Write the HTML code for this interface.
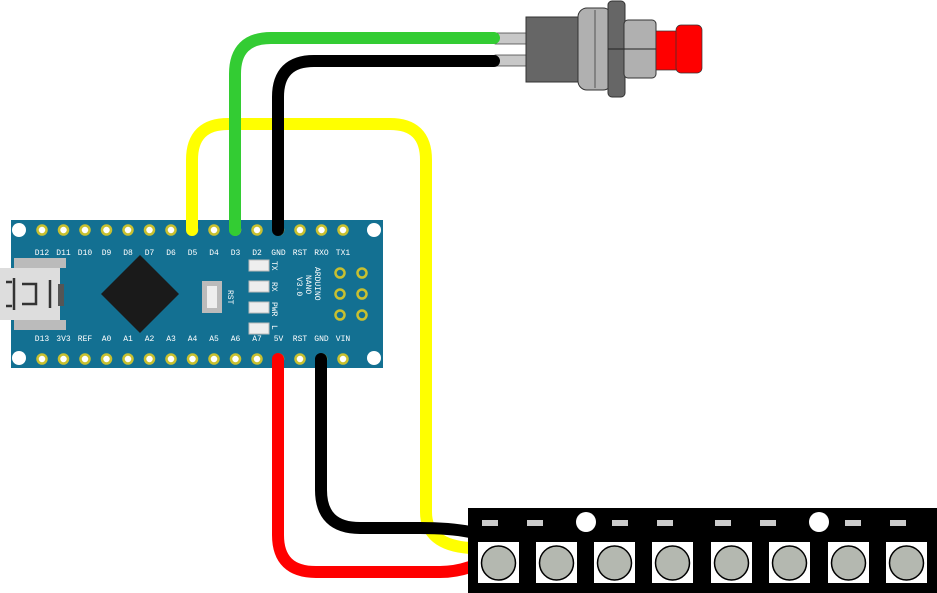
<!DOCTYPE html>
<html><head><style>
html,body{margin:0;padding:0;background:#fff;width:937px;height:593px;overflow:hidden}
</style></head><body>
<svg width="937" height="593" viewBox="0 0 937 593" xmlns="http://www.w3.org/2000/svg" font-family="Liberation Mono, monospace">
<!-- button -->
<rect x="495" y="33" width="32" height="11" fill="#c8c8c8" stroke="#333" stroke-width="0.7"/>
<rect x="495" y="55" width="32" height="11" fill="#c8c8c8" stroke="#333" stroke-width="0.7"/>
<rect x="526" y="17" width="53" height="65" fill="#666" stroke="#333"/>
<rect x="578" y="8" width="34" height="82" rx="9" fill="#b0b0b0" stroke="#333"/>
<line x1="595" y1="10" x2="595" y2="88" stroke="#555"/>
<rect x="608" y="1" width="17" height="96" rx="4" fill="#666" stroke="#333"/>
<line x1="608" y1="49" x2="625" y2="49" stroke="#222"/>
<rect x="624" y="20" width="32" height="58" rx="4" fill="#b0b0b0" stroke="#333"/>
<line x1="624" y1="49" x2="656" y2="49" stroke="#222"/>
<rect x="656" y="31" width="22" height="39" fill="#f00" stroke="#333" stroke-width="0.7"/>
<rect x="676" y="25" width="26" height="48" rx="5" fill="#f00" stroke="#333" stroke-width="0.7"/>
<!-- board -->
<rect x="11" y="220" width="372" height="148" fill="#137092"/>
<rect x="0" y="268" width="60" height="52" fill="#ddd"/>
<rect x="14" y="258" width="52" height="10" fill="#bbb"/><rect x="14" y="320" width="52" height="10" fill="#bbb"/>
<g stroke="#333" stroke-width="2.5" fill="none"><path d="M6 282 H12 M6 306 H12 M14 278 V310"/><path d="M22 284 H36 V304 H22"/><line x1="50" y1="280" x2="50" y2="308"/></g>
<rect x="58" y="284" width="6" height="22" fill="#555"/>
<polygon points="140,255 179,294 140,333 101,294" fill="#1a1a1a"/>
<rect x="202" y="281" width="20" height="32" fill="#bbb"/><rect x="207" y="286" width="10" height="22" fill="#eee"/>
<text transform="translate(228,290) rotate(90)" font-size="8" fill="#fff">RST</text>
<g fill="#eee" stroke="#bbb"><rect x="249" y="260" width="20" height="11"/><rect x="249" y="281" width="20" height="11"/><rect x="249" y="302" width="20" height="11"/><rect x="249" y="323" width="20" height="11"/></g>
<g font-size="8" fill="#fff">
<text transform="translate(272,261) rotate(90)">TX</text>
<text transform="translate(272,282) rotate(90)">RX</text>
<text transform="translate(272,302) rotate(90)">PWR</text>
<text transform="translate(272,325) rotate(90)">L</text>
<text transform="translate(315,267) rotate(90)">ARDUINO</text>
<text transform="translate(306,275) rotate(90)">NANO</text>
<text transform="translate(297,277) rotate(90)">V3.0</text>
</g>
<g fill="none" stroke="#c8c030" stroke-width="2.5">
<circle cx="340" cy="273" r="4.5"/><circle cx="362" cy="273" r="4.5"/><circle cx="340" cy="294" r="4.5"/><circle cx="362" cy="294" r="4.5"/><circle cx="340" cy="315" r="4.5"/><circle cx="362" cy="315" r="4.5"/>
</g>
<g fill="#fff"><circle cx="19" cy="230" r="7"/><circle cx="374" cy="230" r="7"/><circle cx="19" cy="358" r="7"/><circle cx="374" cy="358" r="7"/></g>
<g fill="#fff" stroke="#c8c030" stroke-width="2.5">
<circle cx="42" cy="230" r="4.5"/><circle cx="63.5" cy="230" r="4.5"/><circle cx="85" cy="230" r="4.5"/><circle cx="106.5" cy="230" r="4.5"/><circle cx="128" cy="230" r="4.5"/><circle cx="149.5" cy="230" r="4.5"/><circle cx="171" cy="230" r="4.5"/><circle cx="192.5" cy="230" r="4.5"/><circle cx="214" cy="230" r="4.5"/><circle cx="235.5" cy="230" r="4.5"/><circle cx="257" cy="230" r="4.5"/><circle cx="278.5" cy="230" r="4.5"/><circle cx="300" cy="230" r="4.5"/><circle cx="321.5" cy="230" r="4.5"/><circle cx="343" cy="230" r="4.5"/>
<circle cx="42" cy="359" r="4.5"/><circle cx="63.5" cy="359" r="4.5"/><circle cx="85" cy="359" r="4.5"/><circle cx="106.5" cy="359" r="4.5"/><circle cx="128" cy="359" r="4.5"/><circle cx="149.5" cy="359" r="4.5"/><circle cx="171" cy="359" r="4.5"/><circle cx="192.5" cy="359" r="4.5"/><circle cx="214" cy="359" r="4.5"/><circle cx="235.5" cy="359" r="4.5"/><circle cx="257" cy="359" r="4.5"/><circle cx="278.5" cy="359" r="4.5"/><circle cx="300" cy="359" r="4.5"/><circle cx="321.5" cy="359" r="4.5"/><circle cx="343" cy="359" r="4.5"/>
</g>
<g font-size="8" fill="#fff" text-anchor="middle">
<text x="42" y="255">D12</text><text x="63.5" y="255">D11</text><text x="85" y="255">D10</text><text x="106.5" y="255">D9</text><text x="128" y="255">D8</text><text x="149.5" y="255">D7</text><text x="171" y="255">D6</text><text x="192.5" y="255">D5</text><text x="214" y="255">D4</text><text x="235.5" y="255">D3</text><text x="257" y="255">D2</text><text x="278.5" y="255">GND</text><text x="300" y="255">RST</text><text x="321.5" y="255">RXO</text><text x="343" y="255">TX1</text>
<text x="42" y="341">D13</text><text x="63.5" y="341">3V3</text><text x="85" y="341">REF</text><text x="106.5" y="341">A0</text><text x="128" y="341">A1</text><text x="149.5" y="341">A2</text><text x="171" y="341">A3</text><text x="192.5" y="341">A4</text><text x="214" y="341">A5</text><text x="235.5" y="341">A6</text><text x="257" y="341">A7</text><text x="278.5" y="341">5V</text><text x="300" y="341">RST</text><text x="321.5" y="341">GND</text><text x="343" y="341">VIN</text>
</g>
<!-- wires -->
<g fill="none" stroke-width="12" stroke-linecap="round" stroke-linejoin="round">
<path d="M192 230 V160 Q192 124 228 124 H390 Q426 124 426 160 V512 Q426 545 470 548" stroke="#ff0"/>
<path d="M235 230 V74 Q235 38 271 38 H494" stroke="#33cc33"/>
<path d="M278 230 V97 Q278 61 314 61 H494" stroke="#000"/>
<path d="M321 359 V490 Q321 528 360 528 H420 Q450 528 470 532" stroke="#000"/>
<path d="M278 359 V535 Q278 572 316 572 H440 Q455 572 470 567" stroke="#f00"/>
</g>
<!-- strip -->
<rect x="468" y="508" width="469" height="85" fill="#000"/>
<g fill="#ccc">
<rect x="482" y="520" width="16" height="6"/><rect x="527" y="520" width="16" height="6"/><rect x="612" y="520" width="16" height="6"/><rect x="657" y="520" width="16" height="6"/><rect x="715" y="520" width="16" height="6"/><rect x="760" y="520" width="16" height="6"/><rect x="845" y="520" width="16" height="6"/><rect x="890" y="520" width="16" height="6"/>
</g>
<circle cx="586" cy="522" r="10" fill="#fff"/><circle cx="819" cy="522" r="10" fill="#fff"/>
<g>
<g transform="translate(478,542)"><rect width="41" height="41" fill="#fff"/><circle cx="20.5" cy="21" r="17" fill="#b4b8b0" stroke="#000" stroke-width="1.5"/></g>
<g transform="translate(536,542)"><rect width="41" height="41" fill="#fff"/><circle cx="20.5" cy="21" r="17" fill="#b4b8b0" stroke="#000" stroke-width="1.5"/></g>
<g transform="translate(594,542)"><rect width="41" height="41" fill="#fff"/><circle cx="20.5" cy="21" r="17" fill="#b4b8b0" stroke="#000" stroke-width="1.5"/></g>
<g transform="translate(652,542)"><rect width="41" height="41" fill="#fff"/><circle cx="20.5" cy="21" r="17" fill="#b4b8b0" stroke="#000" stroke-width="1.5"/></g>
<g transform="translate(711,542)"><rect width="41" height="41" fill="#fff"/><circle cx="20.5" cy="21" r="17" fill="#b4b8b0" stroke="#000" stroke-width="1.5"/></g>
<g transform="translate(769,542)"><rect width="41" height="41" fill="#fff"/><circle cx="20.5" cy="21" r="17" fill="#b4b8b0" stroke="#000" stroke-width="1.5"/></g>
<g transform="translate(828,542)"><rect width="41" height="41" fill="#fff"/><circle cx="20.5" cy="21" r="17" fill="#b4b8b0" stroke="#000" stroke-width="1.5"/></g>
<g transform="translate(886,542)"><rect width="41" height="41" fill="#fff"/><circle cx="20.5" cy="21" r="17" fill="#b4b8b0" stroke="#000" stroke-width="1.5"/></g>
</g>
</svg>
</body></html>
